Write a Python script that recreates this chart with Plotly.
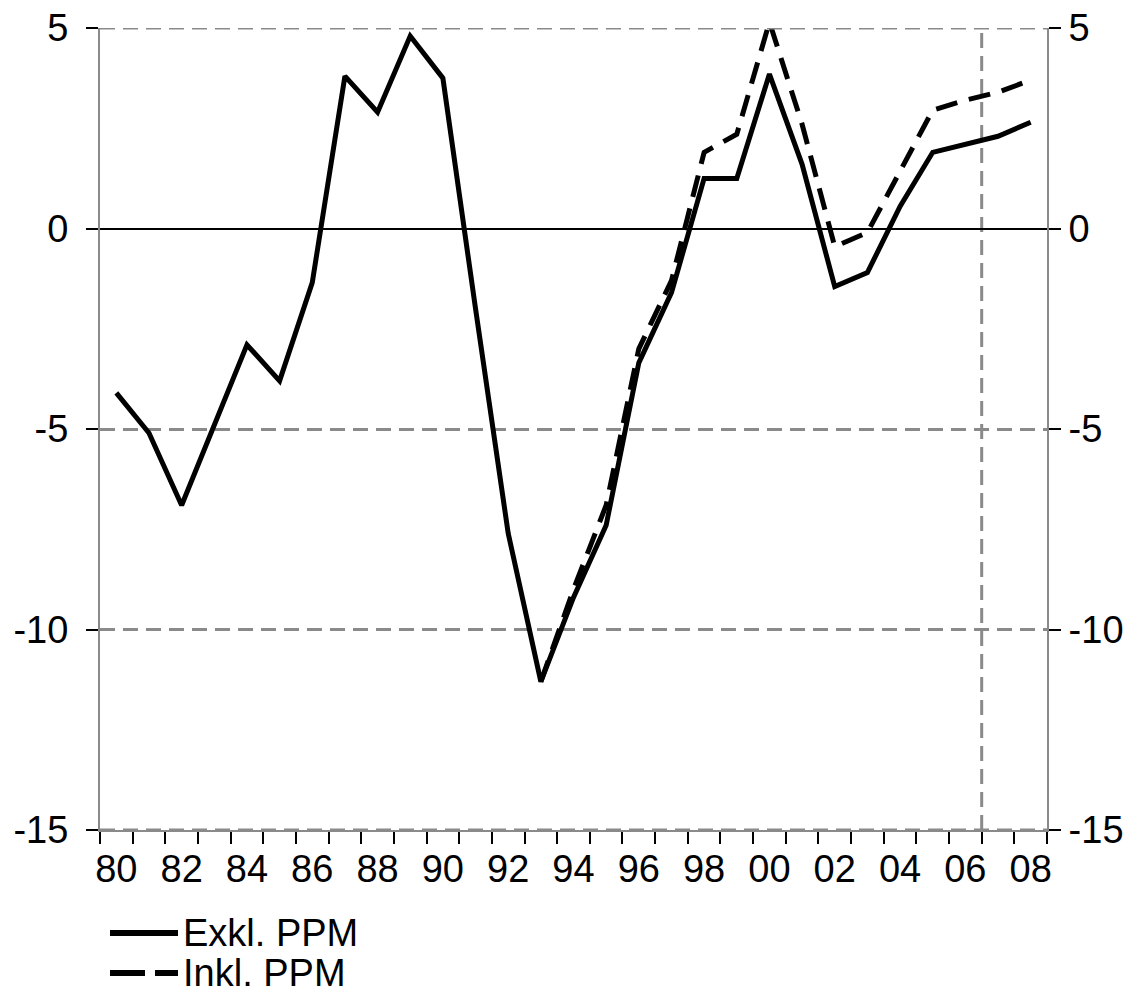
import plotly.graph_objects as go

years = list(range(1980, 2009))
exkl_ppm = [-4.1, -5.1, -6.9, -4.9, -2.9, -3.8, -1.35, 3.8, 2.9, 4.8,
            3.75, -2.0, -7.6, -11.3, -9.2, -7.4, -3.35, -1.6, 1.25, 1.25,
            3.85, 1.6, -1.45, -1.1, 0.55, 1.9, 2.1, 2.3, 2.65]
inkl_years = list(range(1993, 2009))
inkl_ppm = [-11.3, -9.0, -6.9, -3.0, -1.3, 1.9, 2.35, 5.15, 2.6, -0.45,
            -0.1, 1.4, 2.95, 3.2, 3.4, 3.7]
y_ticks = [-15, -10, -5, 0, 5]
x_label_years = list(range(1980, 2009, 2))
x_labels = [str(y)[2:] for y in x_label_years]
forecast_boundary = 2006.5
legend_names = ["Exkl. PPM", "Inkl. PPM"]

FONT = "Liberation Sans, Arial, sans-serif"
GRID = "#8a8a8a"
FS = 38
FS_LEG = 38

# page has an 8px body margin; figure is sized/offset to compensate
OFF = 8
W, H = 1138 - OFF, 997 - OFF
ML, MR, MT, MB = 100 - OFF, 1138 - 1047, 28 - OFF, 997 - 830
PW, PH = W - ML - MR, H - MT - MB

fig = go.Figure()
fig.add_trace(go.Scatter(x=years, y=exkl_ppm, mode="lines", name=legend_names[0],
                         line=dict(color="black", width=5), showlegend=False))
fig.add_trace(go.Scatter(x=inkl_years, y=inkl_ppm, mode="lines", name=legend_names[1],
                         line=dict(color="black", width=5, dash="22px,12px"), showlegend=False))
# invisible trace to activate right axis
fig.add_trace(go.Scatter(x=[years[0]], y=[0], yaxis="y2", mode="markers",
                         marker=dict(opacity=0), showlegend=False, hoverinfo="skip"))

fig.update_layout(
    width=W, height=H,
    margin=dict(l=ML, r=MR, t=MT, b=MB, autoexpand=False),
    paper_bgcolor="white", plot_bgcolor="white",
    font=dict(family=FONT, size=FS, color="black"),
    xaxis=dict(
        range=[1979.5, 2008.5], tickmode="array", tickvals=x_label_years, ticktext=x_labels,
        ticks="", showgrid=False, zeroline=False, automargin=False,
        showline=True, linecolor=GRID, linewidth=2,
        tickfont=dict(family=FONT, size=FS), ticklabeloverflow="allow",
        minor=dict(tickmode="linear", tick0=1979.5, dtick=1, ticks="outside",
                   ticklen=12, tickwidth=2, tickcolor="black", showgrid=False),
        ticklabelstandoff=4,
    ),
    yaxis=dict(
        range=[-15, 5], tickmode="array", tickvals=y_ticks, ticktext=[str(v) for v in y_ticks],
        ticks="outside", ticklen=12, tickwidth=2, tickcolor="black",
        showgrid=True, gridcolor=GRID, gridwidth=3, griddash="15px,8px",
        zeroline=True, zerolinecolor="black", zerolinewidth=2, automargin=False,
        showline=True, linecolor=GRID, linewidth=2, ticklabeloverflow="allow",
        tickfont=dict(family=FONT, size=FS), ticklabelstandoff=10,
    ),
    yaxis2=dict(
        range=[-15, 5], overlaying="y", side="right", tickmode="array", tickvals=y_ticks,
        ticktext=[str(v) for v in y_ticks],
        ticks="outside", ticklen=12, tickwidth=2, tickcolor="black",
        showgrid=False, zeroline=False, automargin=False,
        showline=True, linecolor=GRID, linewidth=2, ticklabeloverflow="allow",
        tickfont=dict(family=FONT, size=FS), ticklabelstandoff=0,
    ),
)

# dashed gridlines at range edges (plotly omits them at the axis edges)
for v in (y_ticks[0], y_ticks[-1]):
    fig.add_shape(type="line", xref="paper", yref="y", x0=0, x1=1, y0=v, y1=v,
                  line=dict(color=GRID, width=3, dash="15px,8px"), layer="above")

fig.add_shape(type="line", xref="x", yref="y", x0=forecast_boundary, x1=forecast_boundary,
              y0=-15, y1=5, line=dict(color=GRID, width=3, dash="15px,8px"), layer="below")

# manual legend below the chart (page pixel positions converted to paper coords)
def px_x(p):
    return (p - OFF - ML) / PW

def px_y(p):
    return 1 - (p - OFF - MT) / PH

for i, (name, dash) in enumerate(zip(legend_names, ["solid", "35px,10px"])):
    ypix = 933 + i * 40
    fig.add_shape(type="line", xref="paper", yref="paper",
                  x0=px_x(110), x1=px_x(178), y0=px_y(ypix), y1=px_y(ypix),
                  line=dict(color="black", width=6, dash=dash))
    fig.add_annotation(xref="paper", yref="paper", x=px_x(182), y=px_y(ypix),
                       text=name, showarrow=False, xanchor="left", yanchor="middle",
                       borderpad=0, font=dict(family=FONT, size=FS_LEG, color="black"))

fig.write_html("out.html")
